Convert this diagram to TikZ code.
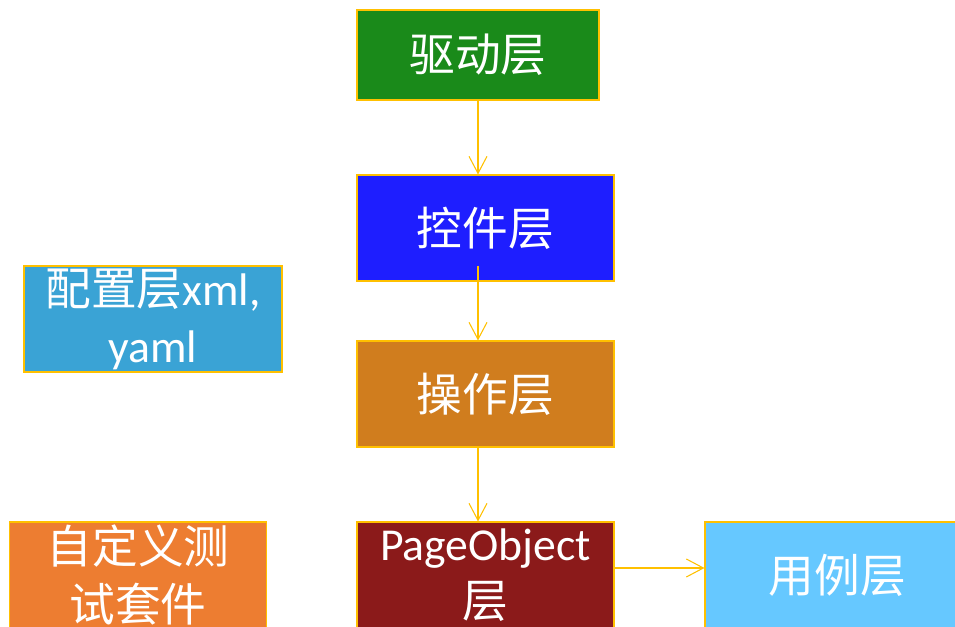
\documentclass[tikz,border=0pt]{standalone}
\usepackage{fontspec}
\setmainfont{Carlito}
\newfontfamily\cjk{Noto Sans CJK SC}
\usepackage{tikz}
\usetikzlibrary{arrows.meta}
\usetikzlibrary{calc}

\definecolor{edgeyellow}{HTML}{FFC000}
\definecolor{drvgreen}{HTML}{1A8A1A}
\definecolor{ctlblue}{HTML}{1E1EFF}
\definecolor{cfgblue}{HTML}{3AA3D5}
\definecolor{oprbrown}{HTML}{D07D1E}
\definecolor{suiteorange}{HTML}{ED7D31}
\definecolor{pored}{HTML}{8B1A1A}
\definecolor{caseblue}{HTML}{66C8FF}

\begin{document}
\begin{tikzpicture}[
        layer_style/.style={rectangle,draw=edgeyellow,line width=0.6pt,text=white,
            minimum width=5.14cm,minimum height=2.12cm,align=center,inner sep=0pt,
            font=\fontsize{26}{32.5}\selectfont},
        edge_style/.style={draw=edgeyellow,line width=0.6pt,
            -{Straight Barb[length=3.4mm,width=3.6mm]}}]

        \useasboundingbox (0,0) rectangle (19.1,-12.54);

        \node [layer_style,fill=drvgreen,minimum width=4.84cm,minimum height=1.8cm](drv) at (9.56,-1.1) {\cjk 驱动层};

        \node [layer_style,fill=ctlblue](ctl) at (9.71,-4.56) {\cjk 控件层};

        \node [layer_style,fill=cfgblue,minimum width=5.16cm](cfg) at (3.06,-6.38) {{\cjk 配置层}xml,\\yaml};

        \node [layer_style,fill=oprbrown](opr) at (9.71,-7.88) {\cjk 操作层};

        \node [layer_style,fill=suiteorange](suite) at (2.76,-11.5) {\cjk 自定义测\\\cjk 试套件};

        \node [layer_style,fill=pored](po) at (9.71,-11.5) {PageObject\\\cjk 层};

        \node [layer_style,fill=caseblue,minimum width=5.3cm](uc) at (16.75,-11.5) {\cjk 用例层};

        \coordinate (c2) at (9.56,-5.32);
        \coordinate (c4) at ($(po.east)+(0,0.14)$);

        \draw [edge_style] (drv.south) -- (drv.south |- ctl.north);

        \draw [edge_style] (c2) -- (c2 |- opr.north);

        \draw [edge_style] (opr.south -| c2) -- (po.north -| c2);

        \draw [edge_style] (c4) -- (c4 -| uc.west);

        \end{tikzpicture}
\end{document}
